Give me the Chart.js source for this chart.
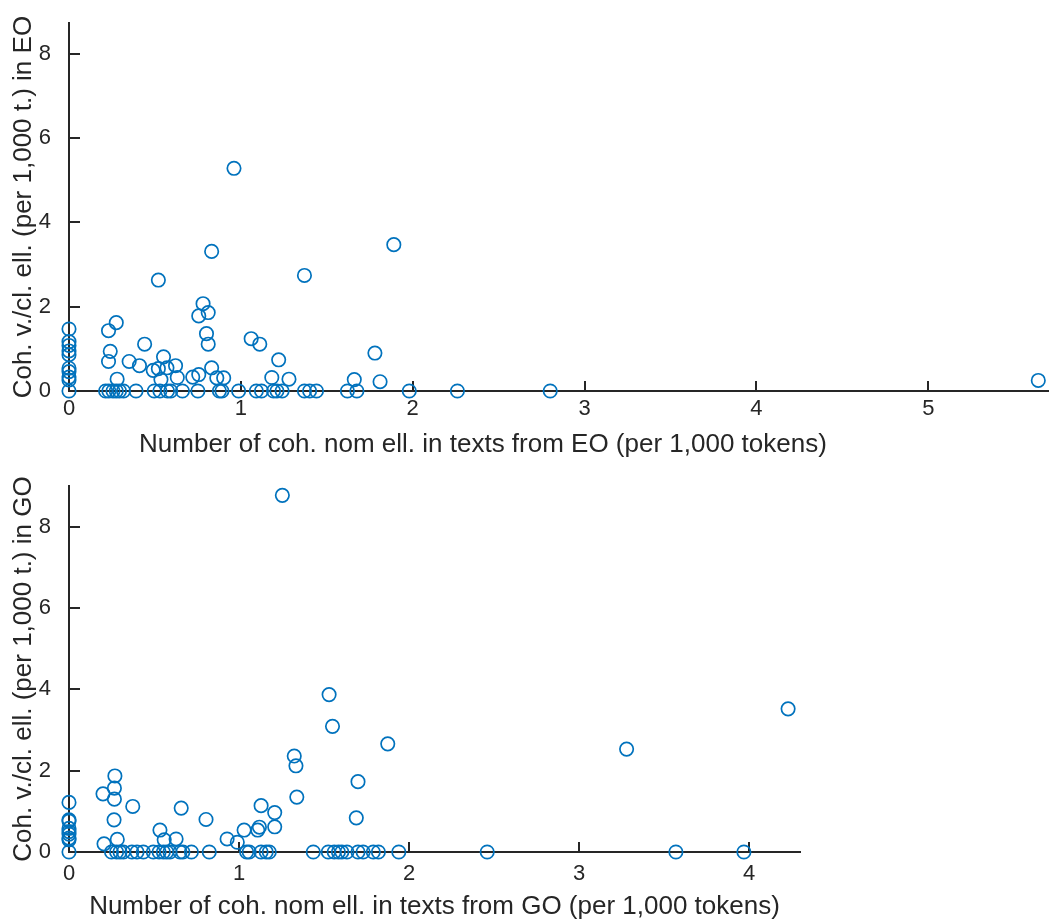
<!DOCTYPE html>
<html>
<head>
<meta charset="utf-8">
<script src="https://cdn.jsdelivr.net/npm/chart.js@4/dist/chart.umd.min.js"></script>
<style>
  html, body { margin: 0; padding: 0; background: #fff; }
  #wrap { position: relative; width: 1057px; height: 920px; overflow: hidden; }
  .panel { position: absolute; left: 0; width: 1057px; height: 460px; }
</style>
</head>
<body>
<div id="wrap">
  <div class="panel" style="top:0"><canvas id="eo" width="1057" height="460"></canvas></div>
  <div class="panel" style="top:460px"><canvas id="go" width="1057" height="460"></canvas></div>
</div>
<script>
// Texts from EO: cohesive nominal ellipsis (x) vs. verbal/clausal ellipsis (y), per 1,000 tokens
const eoX = [
  0, 0, 0, 0, 0, 0, 0, 0, 0, 0,
  0.23, 0.275, 0.24, 0.23, 0.28, 0.35, 0.41, 0.44, 0.49, 0.52,
  0.55, 0.57, 0.535, 0.63, 0.62, 0.72, 0.755, 0.78, 0.755, 0.81,
  0.80, 0.81, 0.83, 0.86, 0.90, 1.06, 1.11, 1.22, 1.18, 1.28,
  1.66, 1.78, 1.81, 0.96, 0.52, 0.83, 1.37, 1.89, 5.64,
  0.213, 0.232, 0.256, 0.275, 0.294, 0.317, 0.39, 0.496, 0.529, 0.573,
  0.592, 0.66, 0.75, 0.875, 0.89, 0.987, 1.09, 1.12, 1.19, 1.21,
  1.24, 1.37, 1.40, 1.44, 1.62, 1.675, 1.98, 2.26, 2.80
];
const eoY = [
  1.47, 1.17, 1.08, 0.95, 0.86, 0.54, 0.46, 0.33, 0.26, 0,
  1.43, 1.62, 0.94, 0.70, 0.28, 0.70, 0.60, 1.11, 0.49, 0.53,
  0.81, 0.55, 0.27, 0.32, 0.60, 0.33, 0.39, 2.07, 1.78, 1.86,
  1.36, 1.11, 0.55, 0.31, 0.31, 1.24, 1.11, 0.74, 0.32, 0.28,
  0.27, 0.90, 0.22, 5.28, 2.63, 3.31, 2.74, 3.47, 0.25,
  0, 0, 0, 0, 0, 0, 0, 0, 0, 0,
  0, 0, 0, 0, 0, 0, 0, 0, 0, 0,
  0, 0, 0, 0, 0, 0, 0, 0, 0
];

// Texts from GO
const goX = [
  0, 0, 0, 0, 0, 0, 0, 0, 0,
  0.20, 0.27, 0.267, 0.267, 0.265, 0.206, 0.284, 0.375, 0.535, 0.56,
  0.63, 0.66, 0.806, 0.93, 0.99, 1.03, 1.11, 1.12, 1.13, 1.21,
  1.21, 1.325, 1.335, 1.34, 1.70, 1.69, 1.875, 1.255, 1.53, 1.55,
  3.28, 4.23,
  0.25, 0.28, 0.30, 0.32, 0.37, 0.40, 0.437, 0.496, 0.53, 0.555,
  0.575, 0.594, 0.653, 0.67, 0.72, 0.825, 1.045, 1.06, 1.13, 1.16,
  1.178, 1.437, 1.525, 1.56, 1.585, 1.605, 1.635, 1.70, 1.73, 1.79,
  1.82, 1.94, 2.46, 3.57, 3.97
];
const goY = [
  1.22, 0.79, 0.76, 0.58, 0.50, 0.44, 0.34, 0.30, 0,
  1.43, 1.87, 1.57, 1.30, 0.79, 0.20, 0.31, 1.12, 0.54, 0.30,
  0.32, 1.08, 0.80, 0.32, 0.24, 0.54, 0.54, 0.61, 1.14, 0.97,
  0.62, 2.36, 2.12, 1.35, 1.73, 0.84, 2.66, 8.77, 3.87, 3.09,
  2.53, 3.52,
  0, 0, 0, 0, 0, 0, 0, 0, 0, 0,
  0, 0, 0, 0, 0, 0, 0, 0, 0, 0,
  0, 0, 0, 0, 0, 0, 0, 0, 0, 0,
  0, 0, 0, 0, 0
];

const eoXTicks = [0, 1, 2, 3, 4, 5];
const goXTicks = [0, 1, 2, 3, 4];
const yTicks = [0, 2, 4, 6, 8];

const eoXTitle = 'Number of coh. nom ell. in texts from EO (per 1,000 tokens)';
const eoYTitle = 'Coh. v./cl. ell. (per 1,000 t.) in EO';
const goXTitle = 'Number of coh. nom ell. in texts from GO (per 1,000 tokens)';
const goYTitle = 'Coh. v./cl. ell. (per 1,000 t.) in GO';

const INK = '#262626';
const BLUE = '#0072BD';
const FONT = 'Liberation Sans, Arial, Helvetica, sans-serif';

// short tick marks pointing into the plot box
const innerTicks = {
  id: 'innerTicks',
  beforeDatasetsDraw(chart) {
    const { ctx, chartArea: a, scales: { x, y } } = chart;
    ctx.save();
    ctx.strokeStyle = INK;
    ctx.lineWidth = 2;
    ctx.beginPath();
    x.ticks.forEach(t => {
      const px = Math.round(x.getPixelForValue(t.value));
      ctx.moveTo(px, a.bottom);
      ctx.lineTo(px, a.bottom - 10);
    });
    y.ticks.forEach(t => {
      const py = Math.round(y.getPixelForValue(t.value));
      ctx.moveTo(a.left, py);
      ctx.lineTo(a.left + 11, py);
    });
    ctx.stroke();
    ctx.restore();
  }
};

function makePlot(id, xs, ys, opt) {
  const pts = xs.map((x, i) => ({ x, y: ys[i] }));
  return new Chart(document.getElementById(id), {
    type: 'scatter',
    data: {
      datasets: [{
        data: pts,
        pointStyle: 'circle',
        pointRadius: 6.7,
        pointHoverRadius: 6.7,
        pointBorderWidth: 1.7,
        pointBorderColor: BLUE,
        pointBackgroundColor: 'rgba(0,0,0,0)',
        clip: false
      }]
    },
    options: {
      responsive: false,
      animation: false,
      events: [],
      layout: { padding: opt.padding },
      plugins: { legend: { display: false }, tooltip: { enabled: false } },
      scales: {
        x: {
          type: 'linear',
          min: 0,
          max: opt.xMax,
          afterBuildTicks: s => { s.ticks = opt.xTicks.map(v => ({ value: v })); },
          afterFit: s => { s.height = opt.xHeight; },
          grid: { display: false },
          border: { display: true, color: INK, width: 2 },
          ticks: { font: { family: FONT, size: 22 }, color: INK, padding: opt.xTickPad, maxRotation: 0, autoSkip: false },
          title: {
            display: true, text: opt.xTitle, color: INK,
            font: { family: FONT, size: 26, lineHeight: 1.1 },
            padding: { top: 0, bottom: opt.xTitlePad }
          }
        },
        y: {
          type: 'linear',
          min: 0,
          max: opt.yMax,
          afterBuildTicks: s => { s.ticks = yTicks.map(v => ({ value: v })); },
          afterFit: s => { s.width = 69; },
          grid: { display: false },
          border: { display: true, color: INK, width: 2 },
          ticks: { font: { family: FONT, size: 22 }, color: INK, padding: 10, autoSkip: false },
          title: {
            display: true, text: opt.yTitle, color: INK,
            font: { family: FONT, size: 26, lineHeight: 1.1 },
            padding: { top: 10, bottom: 0 }
          }
        }
      }
    },
    plugins: [innerTicks]
  });
}

makePlot('eo', eoX, eoY, {
  padding: { top: 15, right: 0, bottom: 0, left: 0 },
  xMax: 5.7, yMax: 8.72, xTicks: eoXTicks, xHeight: 69, xTitlePad: 1, xTickPad: -3,
  xTitle: eoXTitle + ' '.repeat(21), yTitle: eoYTitle
});

makePlot('go', goX, goY, {
  padding: { top: 26, right: 257, bottom: 0, left: 0 },
  xMax: 4.3, yMax: 9.0, xTicks: goXTicks, xHeight: 68, xTitlePad: -1, xTickPad: 1,
  xTitle: goXTitle, yTitle: goYTitle
});
</script>
</body>
</html>
